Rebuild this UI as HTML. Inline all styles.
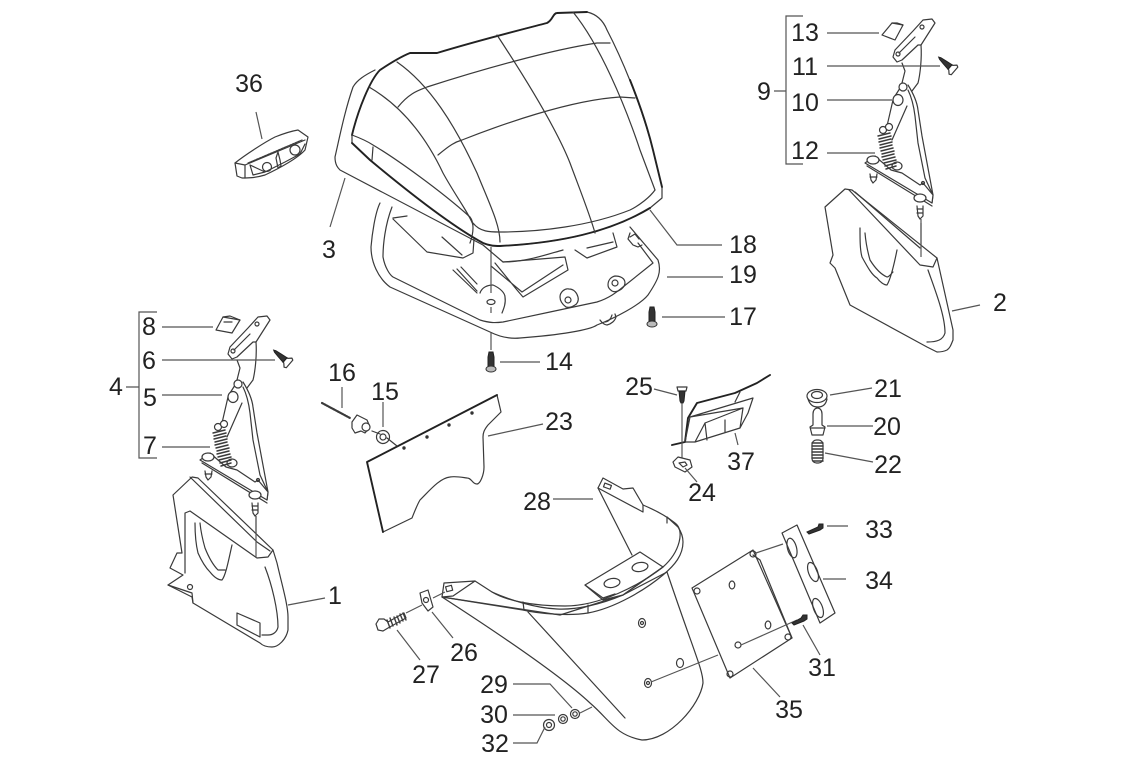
<!DOCTYPE html>
<html><head><meta charset="utf-8"><style>
html,body{margin:0;padding:0;background:#fff;width:1124px;height:768px;overflow:hidden}
svg{display:block}
text{font-family:"Liberation Sans",sans-serif;font-size:25px;fill:#222;text-anchor:middle}
.l{fill:none;stroke:#3a3a3a;stroke-width:1.2;stroke-linejoin:round;stroke-linecap:round}
.t{fill:none;stroke:#222;stroke-width:1.9;stroke-linejoin:round;stroke-linecap:round}
.g{fill:none;stroke:#555;stroke-width:1.2}
.f{fill:#fff;stroke:#3a3a3a;stroke-width:1.2;stroke-linejoin:round}
.d{fill:#333;stroke:#222;stroke-width:1}
</style></head><body>
<svg width="1124" height="768" viewBox="0 0 1124 768" xmlns="http://www.w3.org/2000/svg">
<defs>
<g id="hinge">
<path class="f" d="M230 347l18-19 10-11 9-1 3 4-14 22-3 0-16 15-5 2-4-5z"/>
<path class="l" d="M234 350l16-16M256 342c1 14-1 30-3 38l-6 8M237 360l3 8-3 12"/>
<circle class="l" cx="233" cy="351" r="2"/><circle class="l" cx="257" cy="324" r="2"/>
<path class="l" d="M243 382c5 8 9 16 10 25l4 26 11 59-1 8M243 387c4 8 6 18 7 26l3 27 7 35 7 15"/>
<path class="l" d="M237 382l-7 11M228 397l-6 26M242 403l-15 34"/>
<ellipse class="f" cx="233" cy="397" rx="5" ry="5.5"/><circle class="f" cx="238" cy="384" r="4"/>
<path class="f" d="M200 460l10-7 16 14 11 3 18 12 3-2 10 12-1 8z"/>
<path class="l" d="M202 463l65 40"/>
<ellipse class="f" cx="208" cy="457" rx="6" ry="4"/><ellipse class="f" cx="255" cy="495" rx="6" ry="4"/>
<ellipse class="f" cx="232" cy="463" rx="5" ry="4"/><circle class="l" cx="258" cy="480" r="1.5"/>
<path class="l" style="stroke-width:1.5" d="M213 433l12-3M214 436l12-3M214 439l12-3M215 442l12-3M215 445l12-3M216 448l12-3M217 451l12-3M217 454l12-3M218 457l12-3M219 460l12-3M220 463l11-3M221 466l10-3"/>
<circle class="f" cx="218" cy="427" r="3.5"/><circle class="f" cx="224" cy="424" r="3.5"/>
<path class="l" d="M205 471l1 6 2 3 3-3 1-6M252 503l1 10 2 3 3-3 0-10M205 474l7 0M252 506l6 0M252 510l6 0"/>
<path class="g" d="M256 516l0 41"/>
</g>
<g id="screw"><path class="f" d="M-5-6l10 0 1 2-3 3 0 1-6 0 0-1-3-3z"/><path class="d" d="M-3 0l6 0-1 7-1 6-1 2-1-2-1-6z"/></g>
</defs>

<!-- 36 -->
<path class="f" d="M235 163C245 155 265 142 275 137C285 133 292 131 298 130L308 137L305 150C298 158 280 168 265 175C255 178 248 178 242 178L237 176z"/>
<path class="l" d="M235 163l10 2 0 13M245 165l60-25M250 165l15 7M250 165l3 10 12-3 20-10 15-8 5-10"/>
<path class="l" d="M248 163l54-23" style="stroke-dasharray:2 1"/>
<circle class="l" cx="267" cy="167" r="4.5"/><circle class="l" cx="295" cy="150" r="5"/>
<path class="l" d="M276 158l2-6 2 8 1 6-3 2z"/>

<!-- lower tray -->
<path class="l" d="M380 203C375 213 372 235 371 247C371 262 378 278 390 287L490 332C500 337 510 339 520 338C560 335 590 330 597 325C615 318 640 305 648 295C658 280 662 272 658 260L630 227"/>
<path class="l" d="M392 207C385 225 383 245 383 257C385 268 390 275 393 277L480 320C490 323 495 323 503 322C530 316 570 308 597 302C610 298 618 291 623 287L653 263L638 243"/>
<path class="l" d="M393 218l14-2M393 219l34 33 36 6 10-5 1-14M442 237l20 18M453 270l24 23M457 269l20 22M461 267l16 17"/>
<path class="l" d="M495 263l22 27 6 7 45-27-3-13-62 5M491 266l31 26 41-27"/>
<path class="l" d="M575 250l12 8 30-11-4-14M587 248l26-6"/>
<path class="l" d="M630 233l-2 6 5 6 5 2 4-2M630 237l5-3 4 5"/>
<path class="l" d="M480 293c2-6 8-8 13-8 7 3 12 8 12 12 1 6-1 11-3 16"/>
<ellipse class="l" cx="491" cy="302" rx="4" ry="2.5"/>
<path class="l" d="M560 297c0-5 5-9 9-8 5 0 8 4 9 8 1 4-1 7-3 8-3 2-6 3-9 2-4-3-6-6-6-10zM608 285c0-5 3-8 7-9 5 0 10 2 10 7 0 3-3 6-5 7-3 2-6 2-8 1-3-2-4-4-4-6z"/>
<circle class="l" cx="568" cy="300" r="3"/><circle class="l" cx="615" cy="283" r="3"/>
<path class="l" d="M600 320c2 3 5 5 7 5 4-1 8-4 9-8l-1-3M605 322c3 0 6-3 7-7"/>
<path class="g" d="M491 247l0 46M491 307l0 6M491 333l0 17"/>

<!-- 3 handrail & seat -->
<path class="l" d="M375 70C365 75 357 80 353 87C345 110 340 135 335 157C335 165 338 168 340 170L483 245L503 262C525 262 545 255 563 250"/>
<path class="f" d="M352 135C358 110 370 80 380 70C395 60 405 55 410 53L437 53C480 40 520 30 547 23C553 20 553 13 557 13L587 12C600 15 605 25 607 30C620 55 640 100 653 150L662 187L662 198L650 208C610 232 560 243 500 246C495 246 490 246 483 243C450 225 400 185 370 160L352 143z"/>
<path class="t" d="M352 143L370 160C400 185 450 225 483 243C490 246 495 246 500 246C560 243 610 232 650 208M352 135C358 110 370 80 380 70C395 60 405 55 410 53L437 53C480 40 520 30 547 23C553 20 553 13 557 13L587 12M630 80C640 105 647 125 653 150L662 187"/>
<path class="l" d="M352 135C360 138 367 141 373 145C395 158 440 190 470 217C474 222 474 232 470 243M373 147l-1 13"/>
<path class="l" d="M369 87C400 105 425 135 443 173C455 195 470 215 473 225"/>
<path class="l" d="M397 62C430 85 455 125 477 173C490 205 500 225 500 242"/>
<path class="l" d="M497 35C520 70 555 125 570 163C580 190 590 215 595 233"/>
<path class="l" d="M573 12C600 45 625 105 640 150L655 190"/>
<path class="l" d="M398 107C410 92 420 90 427 87C480 70 550 50 597 43L610 43"/>
<path class="l" d="M438 155C450 145 455 142 462 140C500 125 570 100 620 97L635 98"/>
<path class="l" d="M473 223C480 232 490 232 500 232C540 232 590 226 630 210C640 205 650 197 655 190"/>

<!-- hinges -->
<use href="#hinge"/>
<use href="#hinge" x="665" y="-297"/>
<path class="f" d="M216 330l7-13 17 3-8 13z"/><path class="l" d="M223 317l7-1 10 4M224 322l8 0"/>
<path class="f" d="M882 35l10-12 11 2-8 15z"/><path class="l" d="M892 23l5 0 6 2"/>
<use href="#screw" transform="translate(285 360) rotate(131)"/>
<use href="#screw" transform="translate(950 67) rotate(131)"/>

<!-- panel 1 -->
<path class="f" d="M173 495l19-18 6 1 75 72 4 13C282 585 288 605 288 617L288 630C286 640 278 647 272 647C265 647 262 645 260 643L193 603l-1-10-24-8 15-10-13-7 7-15 5 0z"/>
<path class="l" d="M185 573l0-60 5-2 67 47 11-1 5-7M190 477l67 65 13 9"/>
<path class="l" d="M265 567C272 585 278 610 278 627C277 632 273 635 268 635L262 635"/>
<path class="l" d="M195 523c0 10 1 22 3 30C202 562 206 568 210 572C214 577 218 580 222 580C226 575 229 558 232 545M200 523c1 10 3 18 5 25C209 558 214 566 218 570L225 570"/>
<path class="l" d="M237 613l0 12 23 12 0-14zM168 585l24 12 1 6"/>
<circle class="l" cx="190" cy="587" r="2.5"/>
<path class="g" d="M256 516l0 42"/>

<!-- panel 2 -->
<path class="f" d="M825 207l20-18 7 1 85 68L953 330L953 340C951 345 950 348 947 350C943 352 940 352 937 352L927 347L850 305L835 268L830 263L833 255z"/>
<path class="l" d="M849 190l71 75 13 2 4-9M855 192l65 56"/>
<path class="l" d="M928 270C935 290 945 315 945 333C943 340 937 342 927 342"/>
<path class="l" d="M860 228C860 240 860 250 862 257C868 268 872 275 877 278C880 282 884 285 887 285C890 280 894 265 897 250M865 233C866 245 868 253 870 260C875 268 880 274 887 277C889 277 891 274 893 272"/>
<path class="g" d="M921 223l0 34"/>

<!-- 23 -->
<path class="f" d="M367 462L497 395L501 412L488 425C484 430 483 433 483 437L484 467C484 475 480 484 477 484C472 484 472 478 467 478C460 477 455 476 450 477C440 478 430 490 420 500C417 505 414 513 412 518L383 532z"/>
<path class="t" d="M383 532l-16-70 130-67"/>
<circle cx="404" cy="448" r="1.7" fill="#333"/><circle cx="427" cy="437" r="1.7" fill="#333"/><circle cx="449" cy="425" r="1.7" fill="#333"/><circle cx="472" cy="413" r="1.7" fill="#333"/>
<!-- 16/15 -->
<path class="l" d="M322 403l28 15" style="stroke-width:2.2;stroke-dasharray:1.5 1"/>
<path class="l" d="M372 431l8 3M387 438l10 8"/>
<path class="f" d="M352 422l5-7 4 2 6 3 3 7-5 6-4-2-6 2-3-5z"/>
<circle class="f" cx="366" cy="427" r="4"/>
<circle class="l" cx="383" cy="437" r="6.5"/><circle class="l" cx="383" cy="437" r="3"/>

<!-- 37 -->
<path class="t" d="M672 445l13-3 3-24 9-15 38-10 22-10 13-8"/>
<path class="l" d="M690 417l63-19-5 15-8 15-45 14-10 0M690 417l53-9-3 20M705 423l38-15M705 423l-10 19M705 423l2 17M725 420l0 12M735 402l5-10M685 442l5-25"/>
<!-- 25 screw -->
<g transform="translate(682 393)"><path class="f" d="M-5-6l10 0-1 4-8 0z"/><path class="d" d="M-3-2l6 0-1 10-1 2-2 0-1-2z"/></g>
<path class="g" d="M682 403l0 57"/>
<path class="f" d="M673 462l5-5 12 3 2 7-7 5-10-5z"/><path class="l" d="M679 463l6-1 2 3-4 2z"/>
<!-- 21 20 22 -->
<path class="l" d="M808 399c2 6 5 8 10 8 5 0 8-3 9-8"/>
<ellipse class="f" cx="817" cy="396" rx="10" ry="6.5"/><ellipse class="f" cx="817" cy="395" rx="5.5" ry="3.5"/>
<path class="f" d="M813 414c0-8 9-8 9 0l0 11 3 2-2 8-11 0-2-8 3-2z"/>
<path class="l" d="M811 428l14 0"/>
<rect class="f" x="812" y="440" width="11" height="23" rx="4.5"/>
<path class="l" style="stroke-width:1.5" d="M812 443l11 0M812 446l11 0M812 449l11 0M812 452l11 0M812 455l11 0M812 458l11 0M813 461l10 0"/>

<!-- fender -->
<path class="f" d="M442 597C490 628 560 675 590 703C610 720 615 735 642 740C670 740 700 705 703 683C703 670 695 655 667 572L623 595L560 615z"/>
<path class="l" d="M528 612l97 106"/>
<!-- rim -->
<path class="f" d="M585 585l55-33 23 15-40 28-20 5z"/>
<path class="l" d="M585 585l18 13 12-4"/>
<ellipse class="l" cx="612" cy="583" rx="8" ry="4.5" transform="rotate(-10 612 583)"/>
<ellipse class="l" cx="640" cy="567" rx="8" ry="4.5" transform="rotate(-10 640 567)"/>
<path class="l" d="M598 488l34 67"/>
<path class="l" d="M475 581L492 592C505 600 530 606 565 606C600 606 640 585 663 567C680 552 685 530 675 523C665 515 655 510 643 505L633 488L623 489L603 478L598 488"/>
<path class="l" d="M442 597L523 610C540 614 570 616 588 613C615 608 645 590 663 575C675 565 683 555 683 542C683 535 680 530 678 527L667 517"/>
<path class="l" d="M492 592C510 600 535 608 557 609C575 610 600 605 623 595L663 567M643 505l0 7M523 602l1 8M588 605l0 8M667 517l0 6M598 488l45 24"/>
<path class="l" d="M444 583l-2 14 11-1 22-15zM444 583l31-2"/>
<rect class="l" x="446" y="586" width="6" height="5" transform="rotate(-15 449 588)"/>
<rect class="l" x="604" y="484" width="7" height="4" transform="rotate(20 607 486)"/>
<ellipse class="l" cx="642" cy="623" rx="3.5" ry="4.5"/><circle class="l" cx="642" cy="623" r="1.5"/>
<ellipse class="l" cx="680" cy="663" rx="3.5" ry="4.5"/>
<ellipse class="l" cx="648" cy="683" rx="3.5" ry="4.5"/><circle class="l" cx="648" cy="683" r="1.5"/>
<path class="g" d="M651 682l67-27M580 713l12-6"/>

<!-- 35 -->
<path class="f" d="M692 588l61-38 39 88-62 40z"/>
<path class="l" d="M753 555l7 5 32 78"/>
<circle class="l" cx="697" cy="591" r="3"/><circle class="l" cx="753" cy="554" r="3"/><circle class="l" cx="788" cy="637" r="3"/><circle class="l" cx="730" cy="674" r="3"/>
<ellipse class="l" cx="732" cy="585" rx="2.8" ry="4"/><ellipse class="l" cx="768" cy="625" rx="2.8" ry="4"/><circle class="l" cx="738" cy="645" r="3"/>
<path class="g" d="M741 645l56-25M756 553l27-9"/>

<!-- 34 -->
<path class="f" d="M782 533l15-8 38 88-15 10z"/>
<ellipse class="l" cx="792" cy="548" rx="4.5" ry="10" transform="rotate(-15 792 548)"/>
<ellipse class="l" cx="813" cy="572" rx="4.5" ry="10" transform="rotate(-20 813 572)"/>
<ellipse class="l" cx="818" cy="608" rx="4.5" ry="10" transform="rotate(-20 818 608)"/>
<!-- 33, 31 -->
<path class="d" d="M807 532l11-5 1-3 4 0 0 4-3 2-11 4z"/>
<path class="d" d="M792 623l9-5 2-3 4 0 0 4-3 2-10 4z"/>
<!-- 27 26 -->
<path class="f" d="M376 624l3-5 5 0 4 3 16-9 2 5-18 10-5 3-5-1z"/>
<path class="l" style="stroke-width:1.4" d="M387 620l3 8M390 618l3 8M394 617l3 8M397 616l3 7M400 614l3 7M403 613l3 7"/>
<path class="g" d="M406 613l16-8M433 598l12-6"/>
<path class="f" d="M420 593l8-3 5 17-5 4-6-8z"/><circle class="l" cx="426" cy="600" r="2.5"/>
<!-- washers -->
<circle class="l" cx="575" cy="714" r="4.5"/><circle class="l" cx="575" cy="714" r="2.2"/>
<circle class="l" cx="563" cy="719" r="4.5"/><circle class="l" cx="563" cy="719" r="2.2"/>
<circle class="l" cx="549" cy="725" r="5.5"/><circle class="l" cx="549" cy="725" r="2.5"/>
<!-- 14 17 -->
<g transform="translate(491 352)"><path class="d" d="M-2 0l4 0 1 5 0 10-6 0 0-10z"/><ellipse cx="0" cy="17" rx="5" ry="3" fill="#bbb" stroke="#333"/></g>
<g transform="translate(652 307)"><path class="d" d="M-2 0l4 0 1 5 0 10-6 0 0-10z"/><ellipse cx="0" cy="17" rx="5" ry="3" fill="#bbb" stroke="#333"/></g>

<!-- leaders -->
<g class="g">
<path d="M256 112l6 27M345 178l-15 49M650 210l27 35 45 0M667 277l56 0M662 317l63 0M500 362l40 0"/>
<path d="M952 311l28-6M162 327l51 0M162 360l113 0M162 395l60 0M162 447l48 0M288 605l37-7"/>
<path d="M827 33l52 0M827 66l113 0M827 100l65 0M827 153l48 0"/>
<path d="M342 387l0 21M383 402l0 25M488 436l55-12"/>
<path d="M654 389l23 6M735 433l3 12M685 468l12 14M830 395l42-7M827 426l46 0M825 453l48 9"/>
<path d="M553 499l40 0M397 630l23 30M432 612l21 26M513 684l37 0 22 24M513 715l42 0M513 743l24 0 8-16M753 668l27 29M803 625l17 30"/>
<path d="M827 526l21 0M823 579l23 0"/>
</g>
<path class="g" d="M157 312l-18 0 0 146 18 0M139 387l-13 0M803 16l-17 0 0 148 17 0M786 91l-12 0"/>

<!-- labels -->
<text x="249" y="92">36</text>
<text x="329" y="258">3</text>
<text x="743" y="253">18</text>
<text x="743" y="283">19</text>
<text x="743" y="325">17</text>
<text x="559" y="370">14</text>
<text x="1000" y="311">2</text>
<text x="805" y="41">13</text>
<text x="805" y="75">11</text>
<text x="805" y="111">10</text>
<text x="805" y="159">12</text>
<text x="764" y="100">9</text>
<text x="149" y="335">8</text>
<text x="149" y="369">6</text>
<text x="150" y="406">5</text>
<text x="150" y="454">7</text>
<text x="116" y="395">4</text>
<text x="335" y="604">1</text>
<text x="342" y="381">16</text>
<text x="385" y="400">15</text>
<text x="559" y="430">23</text>
<text x="639" y="395">25</text>
<text x="888" y="397">21</text>
<text x="887" y="435">20</text>
<text x="888" y="473">22</text>
<text x="741" y="470">37</text>
<text x="702" y="501">24</text>
<text x="537" y="510">28</text>
<text x="879" y="538">33</text>
<text x="879" y="589">34</text>
<text x="464" y="661">26</text>
<text x="426" y="683">27</text>
<text x="494" y="693">29</text>
<text x="494" y="723">30</text>
<text x="495" y="752">32</text>
<text x="789" y="718">35</text>
<text x="822" y="676">31</text>
</svg>
</body></html>
